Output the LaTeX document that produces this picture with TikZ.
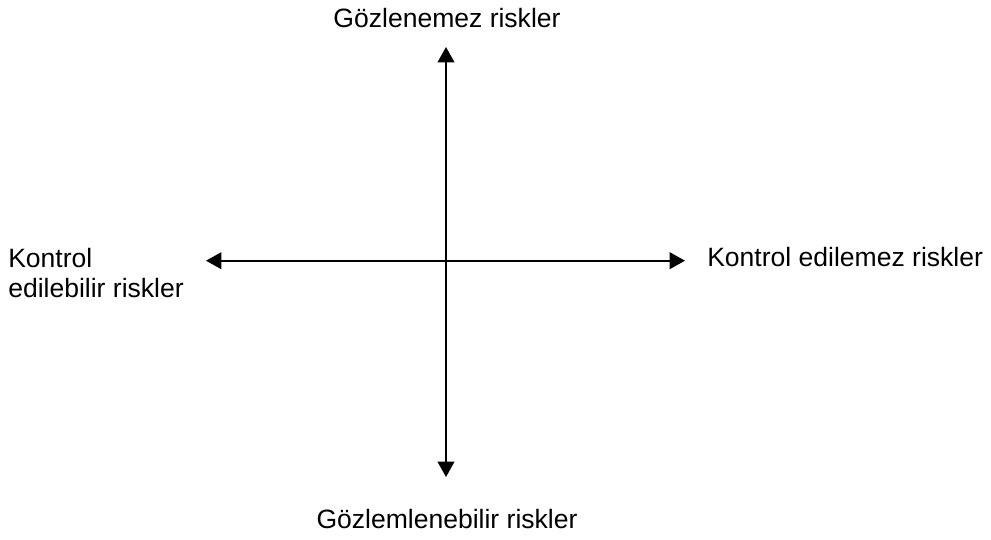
\documentclass[tikz,border=0pt]{standalone}
\usepackage{fontspec}
\setmainfont{Liberation Sans}
\usepackage{tikz}
\usetikzlibrary{arrows.meta,positioning}
\definecolor{Ink}{HTML}{000000}

\begin{document}
\begin{tikzpicture}[x=0.75pt,y=-0.75pt,
    axis/.style={draw=Ink,line width=1.3pt,{Triangle[length=11.5pt,width=12.5pt]}-{Triangle[length=11.5pt,width=12.5pt]}},
    lbl/.style={inner sep=0pt,font=\fontsize{19.9}{22.5}\selectfont,text=Ink}]
  \useasboundingbox (0,0) rectangle (991,539);
  % axis ends
  \coordinate (top) at (446,47);
  \coordinate (bottom) at (446,477);
  \coordinate (left) at (206,260.7);
  \coordinate (right) at (685,260.7);
  \draw[axis] (bottom) -- (top);
  \draw[axis] (left) -- (right);
  % labels
  \node[lbl,anchor=base] (unobs) at (447,27) {Gözlenemez riskler};
  \node[lbl,anchor=base] (obs) at (447,528) {Gözlemlenebilir riskler};
  \node[lbl,anchor=base west] (unctrl) at (707,266) {Kontrol edilemez riskler};
  \node[lbl,anchor=base west,align=left] (ctrl) at (8,297) {Kontrol\\edilebilir riskler};
\end{tikzpicture}
\end{document}
